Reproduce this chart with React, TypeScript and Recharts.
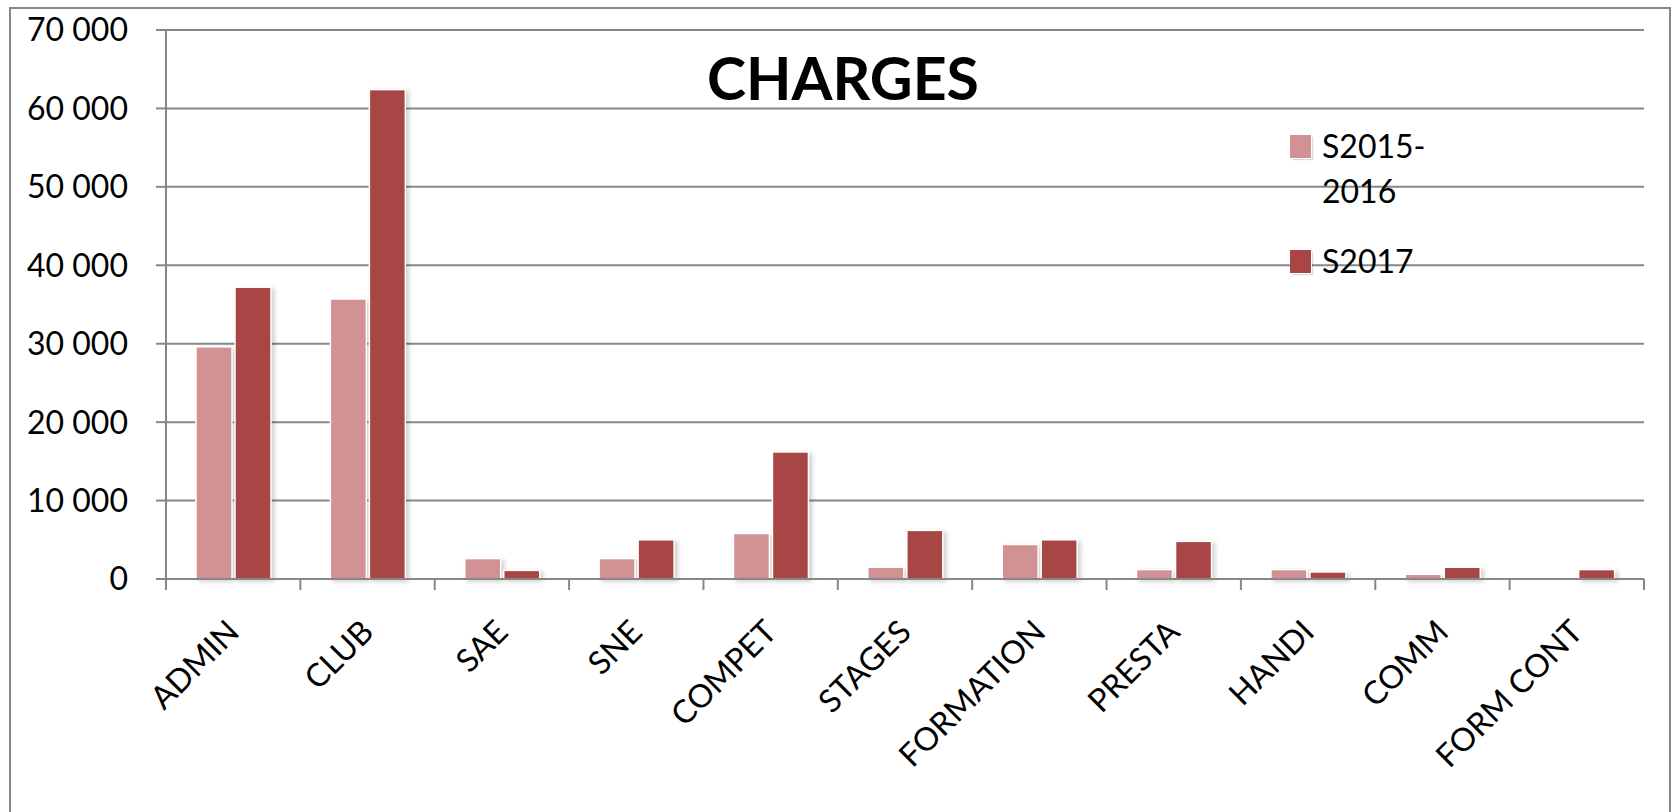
import React from 'react';
import { BarChart, Bar, XAxis, YAxis, CartesianGrid, Legend } from 'recharts';

const categories = ['ADMIN', 'CLUB', 'SAE', 'SNE', 'COMPET', 'STAGES', 'FORMATION', 'PRESTA', 'HANDI', 'COMM', 'FORM CONT'];
const s2015_2016 = [29600, 35700, 2600, 2600, 5800, 1500, 4400, 1200, 1200, 600, 0];
const s2017 = [37200, 62400, 1100, 5000, 16200, 6200, 5000, 4800, 900, 1500, 1200];
const yTicks = [0, 10000, 20000, 30000, 40000, 50000, 60000, 70000];
const seriesNames = ['S2015-2016', 'S2017'];
const title = 'CHARGES';

const COLOR_A = '#D29293';
const COLOR_B = '#A84646';
const GRAY = '#878787';
const FONT = 'Lato, "Open Sans", sans-serif';

const W = 1673;
const H = 812;
const MARGIN = { top: 30, right: 29, bottom: 0, left: 0 };
const Y_WIDTH = 166;
const X_HEIGHT = H - 579;
const BAND = (W - MARGIN.right - Y_WIDTH) / categories.length;

const data = categories.map((c, i) => ({ name: c, a: s2015_2016[i], b: s2017[i] }));

const fmt = (v: number) => {
  const s = String(v);
  if (v < 1000) return s;
  return s.slice(0, s.length - 3) + ' ' + s.slice(s.length - 3);
};

const XTick = (props: any) => {
  const { x, y, payload, index } = props;
  const half = BAND / 2;
  const ty = y + 47;
  return (
    <g>
      <line x1={x - half} x2={x - half} y1={y} y2={y + 11} stroke={GRAY} strokeWidth={2} />
      {index === categories.length - 1 && (
        <line x1={x + half} x2={x + half} y1={y} y2={y + 11} stroke={GRAY} strokeWidth={2} />
      )}
      <text
        x={x}
        y={ty}
        dy="0.35em"
        textAnchor="end"
        transform={`rotate(-45, ${x}, ${ty})`}
        fontSize={32}
        fontFamily={FONT}
        fill="#000"
      >
        {payload.value}
      </text>
    </g>
  );
};

const BarShape = (props: any) => {
  const { x, y, width, height, fill } = props;
  if (!height || height <= 0) return <g />;
  return (
    <rect
      x={x}
      y={y}
      width={width}
      height={height}
      fill={fill}
      stroke="#fff"
      strokeWidth={1.5}
      style={{ filter: 'drop-shadow(3px 2px 2px rgba(0,0,0,0.18))' }}
    />
  );
};

const renderLegend = (props: any) => {
  const payload = props.payload || [];
  return (
    <div style={{ fontFamily: FONT, fontSize: 32, lineHeight: '45px', color: '#000' }}>
      {payload.map((p: any, i: number) => (
        <div key={i} style={{ display: 'flex', alignItems: 'flex-start', marginBottom: i === 0 ? 25 : 0 }}>
          <span
            style={{
              display: 'inline-block',
              width: 21,
              height: 23,
              marginTop: 12,
              background: p.color,
              boxShadow: '1px 1px 0 #fff, 2px 2px 1px rgba(0,0,0,0.15)',
              flex: '0 0 auto',
            }}
          />
          <span style={{ marginLeft: 11, width: 130, display: 'inline-block' }}>{p.value}</span>
        </div>
      ))}
    </div>
  );
};

export default function App() {
  return (
    <div style={{ position: 'fixed', left: 0, top: 0, width: W, height: H, overflow: 'hidden', background: '#fff', fontFamily: FONT }}>
      <div
        style={{
          position: 'absolute',
          left: 9,
          top: 7,
          width: 1662,
          height: 900,
          border: `2px solid ${GRAY}`,
          boxSizing: 'border-box',
        }}
      />
      <BarChart
        width={W}
        height={H}
        data={data}
        margin={MARGIN}
        barCategoryGap={30}
        barGap={3}
        style={{ position: 'absolute', left: 0, top: 0 }}
      >
        <CartesianGrid horizontal vertical={false} stroke={GRAY} strokeWidth={2} />
        <XAxis
          dataKey="name"
          height={X_HEIGHT}
          interval={0}
          tickSize={0}
          tickMargin={0}
          tick={<XTick />}
          axisLine={{ stroke: GRAY, strokeWidth: 2 }}
          tickLine={false}
        />
        <YAxis
          width={Y_WIDTH}
          domain={[0, 70000]}
          ticks={yTicks}
          interval={0}
          tickFormatter={fmt}
          tickSize={10}
          tickMargin={28}
          tick={{ fontSize: 32, fill: '#000', fontFamily: FONT }}
          tickLine={{ stroke: GRAY, strokeWidth: 2 }}
          axisLine={{ stroke: GRAY, strokeWidth: 2 }}
        />
        <Legend
          layout="vertical"
          align="center"
          verticalAlign="middle"
          content={renderLegend}
          wrapperStyle={{ left: 1290, top: 123, width: 250 }}
        />
        <Bar dataKey="a" name={seriesNames[0]} fill={COLOR_A} shape={<BarShape />} isAnimationActive={false} />
        <Bar dataKey="b" name={seriesNames[1]} fill={COLOR_B} shape={<BarShape />} isAnimationActive={false} />
      </BarChart>
      <svg width={W} height={H} style={{ position: 'absolute', left: 0, top: 0, pointerEvents: 'none' }}>
        <text x={843} y={100} textAnchor="middle" fontSize={59} fontWeight="bold" fontFamily={FONT} fill="#000">
          {title}
        </text>
      </svg>
    </div>
  );
}
